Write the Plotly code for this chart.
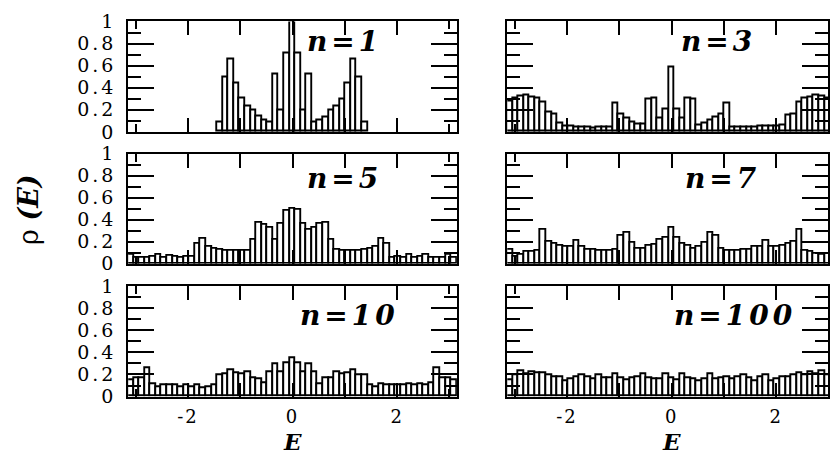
import math
import plotly.graph_objects as go

# ---------------- data ----------------
NBINS = 59
E_MIN, E_MAX = -math.pi, math.pi
panel_labels = ["n=1", "n=3", "n=5", "n=7", "n=10", "n=100"]

rho_n1 = [0, 0, 0, 0, 0, 0, 0, 0, 0, 0, 0, 0, 0, 0, 0, 0,
          0.09, 0.49, 0.66, 0.44, 0.30, 0.23, 0.19, 0.14, 0.10, 0.09, 0.52, 0.19, 0.71,
          1.00,
          0.71, 0.19, 0.52, 0.09, 0.10, 0.13, 0.19, 0.23, 0.29, 0.44, 0.66, 0.49, 0.09,
          0, 0, 0, 0, 0, 0, 0, 0, 0, 0, 0, 0, 0, 0, 0, 0]
rho_n3 = [0.28, 0.30, 0.32, 0.33, 0.31, 0.30, 0.27, 0.18, 0.16, 0.08, 0.05, 0.05, 0.04, 0.04,
          0.04, 0.03, 0.04, 0.04, 0.04, 0.26, 0.16, 0.12, 0.09, 0.07, 0.07, 0.29, 0.30, 0.12,
          0.20, 0.58, 0.20, 0.12, 0.30, 0.29, 0.06, 0.08, 0.10, 0.13, 0.16, 0.26, 0.04, 0.04,
          0.04, 0.04, 0.04, 0.05, 0.05, 0.05, 0.05, 0.06, 0.15, 0.16, 0.27, 0.30, 0.31, 0.33,
          0.32, 0.30, 0.28]
rho_n5 = [0.08, 0.05, 0.055, 0.055, 0.06, 0.08, 0.055, 0.07, 0.065, 0.055, 0.06, 0.06, 0.18,
          0.23, 0.15, 0.14, 0.13, 0.12, 0.12, 0.12, 0.12, 0.12, 0.22, 0.37, 0.35, 0.33, 0.22,
          0.36, 0.48, 0.50, 0.49, 0.36, 0.31, 0.33, 0.36, 0.37, 0.22, 0.13, 0.12, 0.12, 0.12,
          0.12, 0.13, 0.14, 0.15, 0.23, 0.18, 0.05, 0.065, 0.055, 0.08, 0.055, 0.06, 0.08,
          0.055, 0.055, 0.055, 0.08, 0.05]
rho_n7 = [0.13, 0.06, 0.08, 0.11, 0.11, 0.12, 0.31, 0.20, 0.18, 0.16, 0.15, 0.15, 0.21, 0.15,
          0.13, 0.13, 0.12, 0.12, 0.12, 0.13, 0.25, 0.28, 0.19, 0.14, 0.14, 0.16, 0.17, 0.22,
          0.24, 0.33, 0.24, 0.18, 0.16, 0.14, 0.15, 0.19, 0.28, 0.25, 0.14, 0.12, 0.12, 0.12,
          0.13, 0.13, 0.15, 0.15, 0.21, 0.15, 0.15, 0.16, 0.18, 0.20, 0.31, 0.12, 0.11, 0.09,
          0.08, 0.09, 0.12]
rho_n10 = [0.15, 0.17, 0.17, 0.26, 0.11, 0.09, 0.10, 0.10, 0.10, 0.09, 0.10, 0.09, 0.10, 0.08,
           0.09, 0.10, 0.19, 0.20, 0.24, 0.21, 0.20, 0.22, 0.17, 0.16, 0.12, 0.22, 0.29, 0.22,
           0.30, 0.35, 0.30, 0.22, 0.29, 0.22, 0.11, 0.17, 0.17, 0.22, 0.20, 0.21, 0.24, 0.19,
           0.19, 0.10, 0.09, 0.11, 0.10, 0.10, 0.10, 0.10, 0.11, 0.10, 0.11, 0.10, 0.12, 0.26,
           0.17, 0.17, 0.15]
rho_n100 = [0.15, 0.19, 0.23, 0.20, 0.22, 0.21, 0.21, 0.19, 0.18, 0.18, 0.14, 0.16, 0.18, 0.19,
            0.18, 0.16, 0.19, 0.17, 0.17, 0.20, 0.17, 0.15, 0.17, 0.18, 0.20, 0.17, 0.16, 0.16,
            0.20, 0.17, 0.15, 0.20, 0.17, 0.16, 0.14, 0.16, 0.20, 0.16, 0.17, 0.18, 0.16, 0.18,
            0.19, 0.17, 0.14, 0.18, 0.19, 0.14, 0.16, 0.18, 0.18, 0.19, 0.21, 0.19, 0.22, 0.20,
            0.23, 0.19, 0.16]

series = [rho_n1, rho_n3, rho_n5, rho_n7, rho_n10, rho_n100]
y_tick_vals = [0, 0.2, 0.4, 0.6, 0.8, 1]
y_tick_text = ["0", "0.2", "0.4", "0.6", "0.8", "1"]
x_tick_vals = [-2, -1, 0, 1, 2]
x_tick_text = ["-2", "", "0", "", "2"]

# ---------------- geometry ----------------
W, H = 830, 459
bin_w = (E_MAX - E_MIN) / NBINS
centers = [E_MIN + (i + 0.5) * bin_w for i in range(NBINS)]

def px_x(a, b):
    return [a / W, b / W]

def px_y(top, bottom):
    return [(H - bottom) / H, (H - top) / H]

col_dom = [px_x(128.5, 458), px_x(508.5, 830)]
# right column is clipped by the page edge in the original
col_rng = [[E_MIN, E_MAX], [E_MIN, E_MIN + (830 - 508.5) / ((458 - 128.5) / (2 * math.pi))]]
row_dom = [px_y(11, 127), px_y(150, 265.5), px_y(289, 405)]

SERIF = "DejaVu Serif"

def sp(t, ls=2):
    return f'<span style="letter-spacing:{ls}px">{t}</span>'

fig = go.Figure()
layout = dict(width=W, height=H, margin=dict(l=0, r=0, t=0, b=0),
              paper_bgcolor="white", plot_bgcolor="white", showlegend=False,
              bargap=0, font=dict(family=SERIF, color="black"))

label_pos = [(1.0, 0.82), (0.90, 0.82), (1.0, 0.78), (0.97, 0.78), (1.08, 0.73), (1.22, 0.73)]
annotations = []
for k in range(6):
    r, c = divmod(k, 2)
    ax = k + 1
    xn = "x" if ax == 1 else f"x{ax}"
    yn = "y" if ax == 1 else f"y{ax}"
    lw = [0 if v == 0 else 1.9 for v in series[k]]
    fig.add_trace(go.Bar(x=centers, y=series[k], width=bin_w, xaxis=xn, yaxis=yn,
                         marker=dict(color="white", line=dict(color="black", width=lw))))
    layout["xaxis" if ax == 1 else f"xaxis{ax}"] = dict(
        domain=col_dom[c], range=col_rng[c], anchor=yn,
        showline=True, linecolor="black", linewidth=2, mirror="ticks",
        ticks="inside", ticklen=14, tickwidth=1.5, tickcolor="black",
        tickmode="array", tickvals=x_tick_vals, ticktext=[sp(t, 2) for t in x_tick_text],
        showticklabels=(r == 2), tickfont=dict(family=SERIF, size=18, color="black"),
        ticklabelstandoff=3,
        minor=dict(tickmode="array", tickvals=[-3, 3], ticks="inside", ticklen=8,
                   tickwidth=1.5, tickcolor="black"),
        showgrid=False, zeroline=False, fixedrange=True)
    layout["yaxis" if ax == 1 else f"yaxis{ax}"] = dict(
        domain=row_dom[r], range=[0, 1], anchor=xn,
        showline=True, linecolor="black", linewidth=2, mirror="ticks",
        ticks="inside", ticklen=26, tickwidth=1.5, tickcolor="black",
        tickmode="array", tickvals=y_tick_vals, ticktext=[sp(t, 3) for t in y_tick_text],
        showticklabels=(c == 0), tickfont=dict(family=SERIF, size=19, color="black"),
        ticklabelstandoff=6,
        minor=dict(tickmode="array", tickvals=[0.1, 0.3, 0.5, 0.7, 0.9], ticks="inside",
                   ticklen=13, tickwidth=1.5, tickcolor="black"),
        showgrid=False, zeroline=False, fixedrange=True)
    lx, ly = label_pos[k]
    annotations.append(dict(x=lx, y=ly, xref=xn, yref=yn, text=sp(panel_labels[k], 4),
                            showarrow=False, xanchor="center", yanchor="middle",
                            font=dict(family=SERIF, size=28, weight="bold", style="italic",
                                      color="black")))

# axis titles
for cx in (293 / W, 673 / W):
    annotations.append(dict(x=cx, y=(H - 452) / H, xref="paper", yref="paper", text="E",
                            showarrow=False, xanchor="center", yanchor="middle",
                            font=dict(family=SERIF, size=23, weight="bold", style="italic",
                                      color="black")))
annotations.append(dict(x=28 / W, y=(H - 208) / H, xref="paper", yref="paper",
                        text="ρ <b><i>(E)</i></b>", textangle=-90, showarrow=False,
                        xanchor="center", yanchor="middle",
                        font=dict(family=SERIF, size=27, color="black")))
layout["annotations"] = annotations
fig.update_layout(**layout)
fig.write_html("out.html")
